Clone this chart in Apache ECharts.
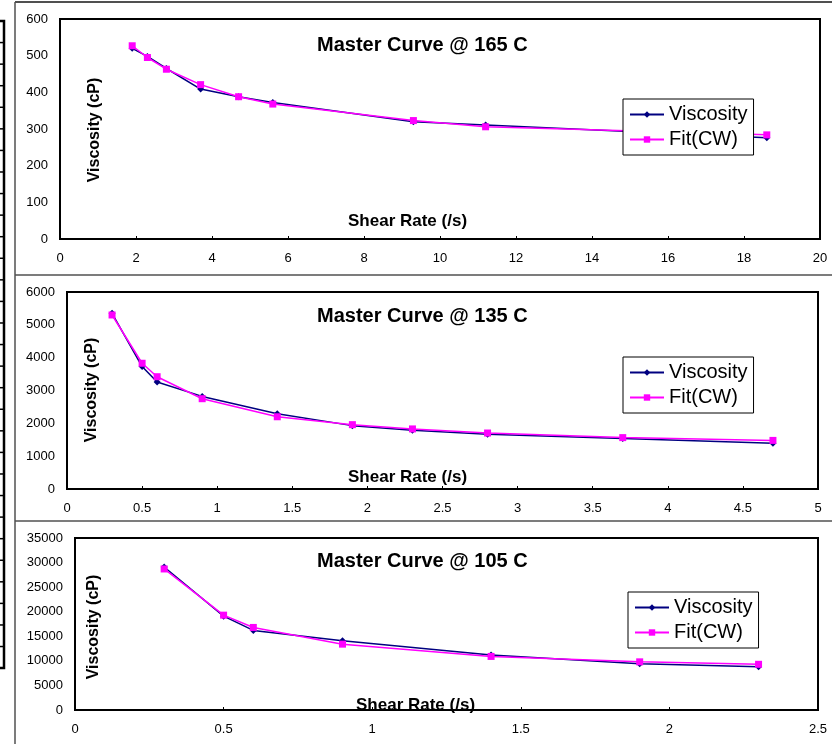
<!DOCTYPE html>
<html>
<head>
<meta charset="utf-8">
<script src="https://cdn.jsdelivr.net/npm/echarts@6/dist/echarts.min.js"></script>
<style>
  html, body { margin: 0; padding: 0; background: #fff; }
  #chart { width: 832px; height: 744px; }
</style>
</head>
<body>
<div id="chart"></div>
<script>
// 165 C
const rate165 = [1.9, 2.3, 2.8, 3.7, 4.7, 5.6, 9.3, 11.2, 18.6]
const visc165 = [520, 498, 465, 409, 388, 372, 320, 311, 276]
const fit165 = [527, 495, 463, 421, 388, 368, 323, 306, 284]

// 135 C
const rate135 = [0.3, 0.5, 0.6, 0.9, 1.4, 1.9, 2.3, 2.8, 3.7, 4.7]
const visc135 = [5350, 3730, 3260, 2820, 2290, 1930, 1790, 1670, 1540, 1390]
const fit135 = [5300, 3830, 3420, 2750, 2200, 1960, 1830, 1705, 1565, 1480]

// 105 C
const rate105 = [0.3, 0.5, 0.6, 0.9, 1.4, 1.9, 2.3]
const visc105 = [29100, 19100, 16200, 14100, 11200, 9400, 8800]
const fit105 = [28700, 19300, 16800, 13400, 10900, 9800, 9300]

const titles = ['Master Curve @ 165 C', 'Master Curve @ 135 C', 'Master Curve @ 105 C']
const xRanges = [[0, 20, 2], [0, 5, 0.5], [0, 2.5, 0.5]]
const yRanges = [[0, 600, 100], [0, 6000, 1000], [0, 35000, 5000]]
const seriesNames = ['Viscosity', 'Fit(CW)']

const FONT = 'Arial, "Liberation Sans", sans-serif'

// panel geometry (px)
const panels = [
  { left: 60, top: 19, width: 760, height: 220, titleTop: 35, legendLeft: 623, legendTop: 99, yNameX: 95, yNameY: 130, xNameX: 348, xNameY: 221 },
  { left: 67, top: 292, width: 751, height: 197, titleTop: 306, legendLeft: 623, legendTop: 357, yNameX: 92, yNameY: 390, xNameX: 348, xNameY: 477 },
  { left: 75, top: 538, width: 743, height: 172, titleTop: 551, legendLeft: 628, legendTop: 592, yNameX: 94, yNameY: 627, xNameX: 356, xNameY: 705 }
]

const data = [
  [rate165, visc165, fit165],
  [rate135, visc135, fit135],
  [rate105, visc105, fit105]
]

const pair = (xs, ys) => xs.map((x, i) => [x, ys[i]])

const chart = echarts.init(document.getElementById('chart'))

const grid = panels.map(p => ({
  left: p.left, top: p.top, width: p.width, height: p.height,
  show: true, borderColor: '#000', borderWidth: 2, backgroundColor: '#fff'
}))

const axisLabel = { color: '#000', fontSize: 13, fontFamily: FONT, formatter: v => String(v) }

const xAxis = xRanges.map((r, i) => ({
  type: 'value', gridIndex: i, min: r[0], max: r[1], interval: r[2],
  axisLine: { show: true, lineStyle: { color: '#000', width: 2 } },
  axisTick: { show: true, inside: true, length: 3, lineStyle: { color: '#000' } },
  axisLabel: Object.assign({ margin: 13 }, axisLabel),
  splitLine: { show: false },
  z: 6
}))

const yAxis = yRanges.map((r, i) => ({
  type: 'value', gridIndex: i, min: r[0], max: r[1], interval: r[2],
  axisLine: { show: true, lineStyle: { color: '#000', width: 2 } },
  axisTick: { show: false },
  axisLabel: Object.assign({ margin: 12 }, axisLabel),
  splitLine: { show: false }
}))

const series = []
data.forEach((d, i) => {
  series.push({
    name: seriesNames[0], type: 'line', xAxisIndex: i, yAxisIndex: i,
    data: pair(d[0], d[1]),
    symbol: 'diamond', symbolSize: 7,
    lineStyle: { color: '#000080', width: 1.5 },
    itemStyle: { color: '#000080' },
    z: 2
  })
  series.push({
    name: seriesNames[1], type: 'line', xAxisIndex: i, yAxisIndex: i,
    data: pair(d[0], d[2]),
    symbol: 'rect', symbolSize: 7,
    lineStyle: { color: '#ff00ff', width: 1.5 },
    itemStyle: { color: '#ff00ff' },
    z: 3
  })
})

const title = panels.map((p, i) => ({
  text: titles[i], left: 317, top: p.titleTop, padding: 0,
  textStyle: { fontSize: 20, fontWeight: 'bold', color: '#000', fontFamily: FONT }
}))

const legend = panels.map(p => ({
  data: seriesNames,
  orient: 'vertical', left: p.legendLeft, top: p.legendTop,
  backgroundColor: '#fff', borderColor: '#000', borderWidth: 1,
  padding: [4, 6, 4, 6], itemGap: 2, itemWidth: 34, itemHeight: 8,
  selectedMode: false,
  textStyle: { fontSize: 20, color: '#000', fontFamily: FONT, lineHeight: 23 }
}))

// frame lines and the edge of the neighbouring sheet object
const graphic = []
const frameLine = (x1, y1, x2, y2, w) => ({
  type: 'line', silent: true,
  shape: { x1, y1, x2, y2 },
  style: { stroke: '#505050', lineWidth: w }
})
graphic.push(frameLine(15, 2, 832, 2, 2))
graphic.push(frameLine(15, 2, 15, 744, 1.5))
graphic.push(frameLine(15, 275, 832, 275, 1.5))
graphic.push(frameLine(15, 521, 832, 521, 1.5))

graphic.push({
  type: 'rect', silent: true,
  shape: { x: -6, y: 21, width: 10, height: 647 },
  style: { fill: 'none', stroke: '#000', lineWidth: 2.5 }
})
for (let k = 1; k < 30; k++) {
  const y = 21 + k * 21.57
  graphic.push({
    type: 'line', silent: true,
    shape: { x1: 0, y1: y, x2: 4, y2: y },
    style: { stroke: '#000', lineWidth: 1.5 }
  })
}

panels.forEach(p => {
  graphic.push({
    type: 'text', silent: true, z: 5,
    x: p.yNameX, y: p.yNameY, rotation: Math.PI / 2,
    style: {
      text: 'Viscosity (cP)', fill: '#000', font: 'bold 16px ' + FONT,
      textAlign: 'center', textVerticalAlign: 'middle'
    }
  })
  graphic.push({
    type: 'text', silent: true, z: 1,
    x: p.xNameX, y: p.xNameY,
    style: {
      text: 'Shear Rate (/s)', fill: '#000', font: 'bold 17px ' + FONT,
      textAlign: 'left', textVerticalAlign: 'middle'
    }
  })
})

chart.setOption({
  backgroundColor: '#fff',
  animation: false,
  title,
  legend,
  grid,
  xAxis,
  yAxis,
  series,
  graphic
})
</script>
</body>
</html>
